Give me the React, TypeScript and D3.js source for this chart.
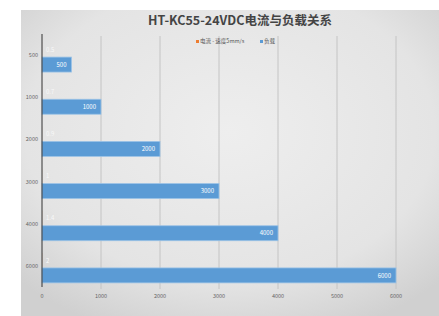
import * as d3 from "d3";
import React from "react";

const categories = ["500", "1000", "2000", "3000", "4000", "6000"];
const currentValues = [0.5, 0.7, 0.9, 1, 1.4, 2];
const loadValues = [500, 1000, 2000, 3000, 4000, 6000];
const xTicks = [0, 1000, 2000, 3000, 4000, 5000, 6000];
const seriesNames = ["电流 - 速度5mm/s", "负载"];
const seriesColors = ["#ED7D31", "#5B9BD5"];

const W = 439;
const H = 316;
const margin = { left: 42, right: 43, top: 36, bottom: 27 };

export default function App() {
  const x = d3.scaleLinear().domain([0, 6000]).range([margin.left, W - margin.right]);
  const y = d3
    .scaleBand()
    .domain(categories)
    .range([margin.top, H - margin.bottom])
    .paddingInner(0.29)
    .paddingOuter(0.145);
  const inner = d3.scaleBand().domain(["0", "1"]).range([0, y.bandwidth()]);
  const font = "'Noto Sans CJK SC', 'Noto Sans', sans-serif";

  return (
    <svg
      width={W}
      height={H}
      style={{ position: "absolute", left: 0, top: 0, display: "block" }}
      fontFamily={font}
    >
      <defs>
        <radialGradient id="bg" cx="50%" cy="40%" r="70%">
          <stop offset="0%" stopColor="#eeeeee" />
          <stop offset="70%" stopColor="#e4e4e4" />
          <stop offset="100%" stopColor="#d0d0d0" />
        </radialGradient>
      </defs>
      <rect width={W} height={H} fill="#fff" />
      <rect x={21} y={10} width={W - 21} height={H - 10} fill="url(#bg)" />

      {/* gridlines */}
      {xTicks.slice(1).map((t) => (
        <line key={t} x1={x(t)} x2={x(t)} y1={margin.top} y2={H - margin.bottom} stroke="#c4c4c4" strokeWidth={1} />
      ))}

      {/* bars */}
      {categories.map((c, i) => (
        <g key={c}>
          <rect
            x={x(0)}
            y={(y(c) as number) + (inner("0") as number)}
            width={x(currentValues[i]) - x(0)}
            height={inner.bandwidth()}
            fill={seriesColors[0]}
          />
          <text
            x={x(0) + 4}
            y={(y(c) as number) + (inner("0") as number) + inner.bandwidth() / 2}
            dy="0.35em"
            fontSize={6}
            fill="#f8f8f8"
          >
            {currentValues[i]}
          </text>
          <rect
            x={x(0)}
            y={(y(c) as number) + (inner("1") as number)}
            width={x(loadValues[i]) - x(0)}
            height={inner.bandwidth()}
            fill={seriesColors[1]}
            stroke="#9cc3e6"
            strokeWidth={0.8}
          />
          <text
            x={x(loadValues[i]) - 5}
            y={(y(c) as number) + (inner("1") as number) + inner.bandwidth() / 2}
            dy="0.35em"
            fontSize={6}
            textAnchor="end"
            fill="#fff"
          >
            {loadValues[i]}
          </text>
          <text
            x={margin.left - 4}
            y={(y(c) as number) + y.bandwidth() / 2 - 2}
            dy="0.35em"
            fontSize={5.5}
            textAnchor="end"
            fill="#666"
          >
            {c}
          </text>
        </g>
      ))}

      {/* axis line */}
      <line x1={x(0)} x2={x(0)} y1={margin.top - 2} y2={H - margin.bottom - 2} stroke="#333" strokeWidth={1} />

      {/* x tick labels */}
      {xTicks.map((t) => (
        <text key={t} x={x(t)} y={H - margin.bottom + 7} dy="0.35em" fontSize={5.5} textAnchor="middle" fill="#666">
          {t}
        </text>
      ))}

      {/* title */}
      <text x={240} y={25} textAnchor="middle" fontSize={12.5} fontWeight="bold" fill="#444">
        HT-KC55-24VDC电流与负载关系
      </text>

      {/* legend */}
      <g fontSize={5.5} fill="#555">
        <rect x={196} y={40} width={3} height={3} fill={seriesColors[0]} />
        <text x={200} y={41.5} dy="0.35em">{seriesNames[0]}</text>
        <rect x={260} y={40} width={3} height={3} fill={seriesColors[1]} />
        <text x={264} y={41.5} dy="0.35em">{seriesNames[1]}</text>
      </g>
    </svg>
  );
}
